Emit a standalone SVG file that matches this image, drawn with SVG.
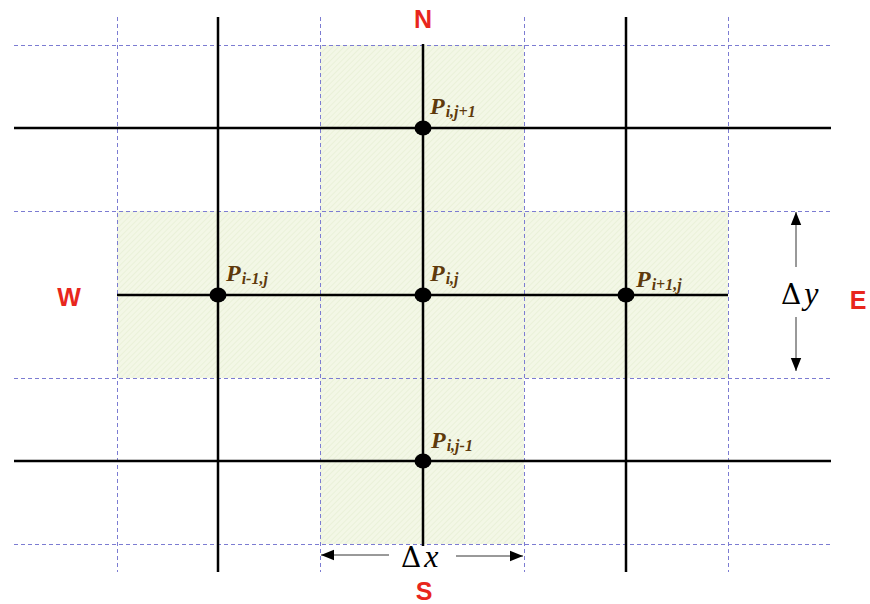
<svg xmlns="http://www.w3.org/2000/svg" width="870" height="604" viewBox="0 0 870 604">
<defs>
<pattern id="hatch" width="4" height="4" patternUnits="userSpaceOnUse" patternTransform="rotate(45)">
<rect width="4" height="4" fill="#f3f7e6"/>
<line x1="0" y1="0" x2="0" y2="4" stroke="#e2ebcc" stroke-width="1"/>
</pattern>
<marker id="ah" viewBox="0 0 10 10" refX="10" refY="5" markerWidth="13" markerHeight="13" markerUnits="userSpaceOnUse" orient="auto">
<path d="M0,1 L10,5 L0,9 Z" fill="#000"/>
</marker>
<style>
.dash{stroke:#7c7cd2;stroke-width:1;stroke-dasharray:4 3;fill:none}
.grid{stroke:#000;stroke-width:2.5;fill:none}
.pt{fill:#000}
.lab{font-family:"Liberation Serif",serif;font-weight:bold;font-style:italic;fill:#5e3a0c}
.p{font-size:24px}
.sub{font-size:16px}
.dir{font-family:"Liberation Sans",Arial,sans-serif;font-weight:bold;font-size:25px;fill:#e8261d;text-anchor:middle}
.dim{stroke:#000;stroke-width:0.8;fill:none}
.math{font-family:"DejaVu Serif","Liberation Serif",serif;font-size:28px;fill:#000}
.var{font-family:"Liberation Serif",serif;font-style:italic;font-size:32px}
</style>
</defs>
<g id="shading">
<rect x="320" y="45" width="204" height="499" fill="url(#hatch)"/>
<rect x="117" y="211" width="611" height="167" fill="url(#hatch)"/>
</g>
<g id="connectors">
<g id="dashed">
<line class="dash" x1="117.5" y1="17" x2="117.5" y2="572"/>
<line class="dash" x1="320.5" y1="17" x2="320.5" y2="572"/>
<line class="dash" x1="524.5" y1="17" x2="524.5" y2="572"/>
<line class="dash" x1="728.5" y1="17" x2="728.5" y2="572"/>
<line class="dash" x1="14" y1="45.5" x2="831" y2="45.5"/>
<line class="dash" x1="14" y1="211.5" x2="831" y2="211.5"/>
<line class="dash" x1="14" y1="378.5" x2="831" y2="378.5"/>
<line class="dash" x1="14" y1="544.5" x2="831" y2="544.5"/>
</g>
<g id="solid">
<line class="grid" x1="218" y1="17" x2="218" y2="572"/>
<line class="grid" x1="423" y1="44" x2="423" y2="546"/>
<line class="grid" x1="626" y1="17" x2="626" y2="572"/>
<line class="grid" x1="14" y1="128" x2="831" y2="128"/>
<line class="grid" x1="117" y1="295" x2="728" y2="295"/>
<line class="grid" x1="14" y1="461" x2="831" y2="461"/>
</g>
<g id="dims">
<line class="dim" x1="796" y1="267" x2="796" y2="212" marker-end="url(#ah)"/>
<line class="dim" x1="796" y1="317" x2="796" y2="371" marker-end="url(#ah)"/>
<line class="dim" x1="389" y1="555" x2="321" y2="555" marker-end="url(#ah)"/>
<line class="dim" x1="456" y1="556" x2="523" y2="556" marker-end="url(#ah)"/>
</g>
</g>
<g id="P_i_jp1">
<ellipse class="pt" cx="423" cy="128" rx="8.5" ry="7.5"/>
<text class="lab" x="430" y="114"><tspan class="p">P</tspan><tspan class="sub" dx="1" dy="3">i,j+1</tspan></text>
</g>
<g id="P_im1_j">
<ellipse class="pt" cx="218" cy="295" rx="8.5" ry="7.5"/>
<text class="lab" x="226" y="281"><tspan class="p">P</tspan><tspan class="sub" dx="1" dy="3">i-1,j</tspan></text>
</g>
<g id="P_i_j">
<ellipse class="pt" cx="423" cy="295" rx="8.5" ry="7.5"/>
<text class="lab" x="430" y="281"><tspan class="p">P</tspan><tspan class="sub" dx="1" dy="3">i,j</tspan></text>
</g>
<g id="P_ip1_j">
<ellipse class="pt" cx="626" cy="295" rx="8.5" ry="7.5"/>
<text class="lab" x="636" y="287"><tspan class="p">P</tspan><tspan class="sub" dx="1" dy="3">i+1,j</tspan></text>
</g>
<g id="P_i_jm1">
<ellipse class="pt" cx="423" cy="461" rx="8.5" ry="7.5"/>
<text class="lab" x="431" y="448"><tspan class="p">P</tspan><tspan class="sub" dx="1" dy="3">i,j-1</tspan></text>
</g>
<g id="labels">
<text class="dir" x="423" y="28">N</text>
<text class="dir" x="424" y="600">S</text>
<text class="dir" x="69" y="306">W</text>
<text class="dir" x="858" y="309">E</text>
<text class="math" x="781" y="304">Δ<tspan class="var" dx="3">y</tspan></text>
<text class="math" x="401" y="567">Δ<tspan class="var" dx="3">x</tspan></text>
</g>
</svg>
